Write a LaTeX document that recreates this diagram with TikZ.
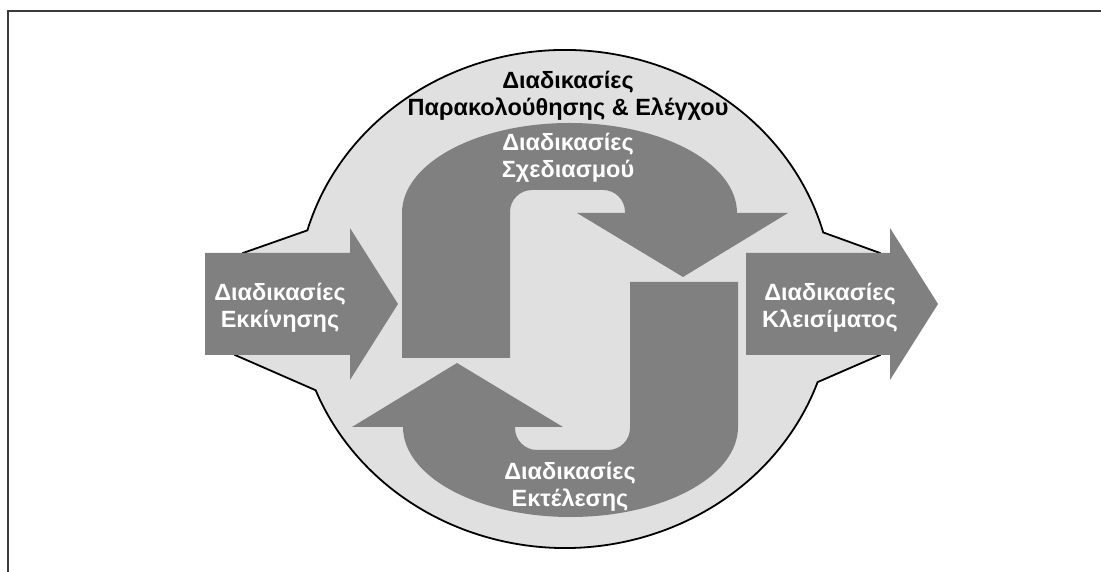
\documentclass[tikz,border=0pt]{standalone}
\usepackage{fontspec}
\setmainfont{Liberation Sans}
\usetikzlibrary{calc}
\definecolor{Shade}{HTML}{E0E0E0}
\definecolor{Slate}{HTML}{808080}
\definecolor{Frame}{HTML}{3A3A3A}

\begin{document}
\begin{tikzpicture}[x=1pt,y=1pt,
    grouptext/.style={align=center,inner sep=0pt,
      font=\fontsize{23.5}{27}\selectfont\bfseries},
    arrowtext/.style={grouptext,text=white},
    block/.style={fill=Slate,draw=none}
  ]
  \useasboundingbox (0,0) rectangle (1101,572);
  \draw[Frame,line width=2.5pt] (8,0) -- (8,561) -- (1101,561);
  \coordinate (mid) at (565,273);
  \coordinate (turn) at (570,252);
  \filldraw[fill=Shade,draw=black,line width=1.8pt]
    ($(mid)+(164:268 and 249)$)
      arc[start angle=164,end angle=15.5,x radius=268,y radius=249]
    -- (880,319) -- (880,217)
    -- ($(mid)+(-19.5:268 and 249)$)
      arc[start angle=-19.5,end angle=-158.5,x radius=268,y radius=249]
    -- (235,217) -- (243,319) -- cycle;
  \fill[block] (205,217) -- (205,319) -- (350,319) -- (350,344)
    -- (398,268) -- (350,192) -- (350,217) -- cycle;
  \fill[block] (746,217) -- (746,319) -- (890,319) -- (890,344)
    -- (938,268) -- (890,192) -- (890,217) -- cycle;
  \fill[block] (402,214) -- (510,214) -- (510,360)
    arc[start angle=180,end angle=90,radius=22] -- (603,382)
    arc[start angle=90,end angle=0,radius=22] -- (625,359)
    -- (577,359) -- (683,295) -- (788,359) -- (737,359)
    arc[start angle=0,end angle=180,x radius=167.5,y radius=90] -- cycle;
  \fill[block,rotate around={180:(turn)}] (402,214) -- (510,214) -- (510,360)
    arc[start angle=180,end angle=90,radius=22] -- (603,382)
    arc[start angle=90,end angle=0,radius=22] -- (625,359)
    -- (577,359) -- (683,295) -- (788,359) -- (737,359)
    arc[start angle=0,end angle=180,x radius=167.5,y radius=90] -- cycle;
  \node[grouptext] (monitor) at (568,476) {Διαδικασίες\\Παρακολούθησης \& Ελέγχου};
  \node[arrowtext] (planning) at (568,414) {Διαδικασίες\\Σχεδιασμού};
  \node[arrowtext] (executing) at (570,85) {Διαδικασίες\\Εκτέλεσης};
  \node[arrowtext] (initiating) at (280,264) {Διαδικασίες\\Εκκίνησης};
  \node[arrowtext] (closing) at (830,264) {Διαδικασίες\\Κλεισίματος};
\end{tikzpicture}
\end{document}
